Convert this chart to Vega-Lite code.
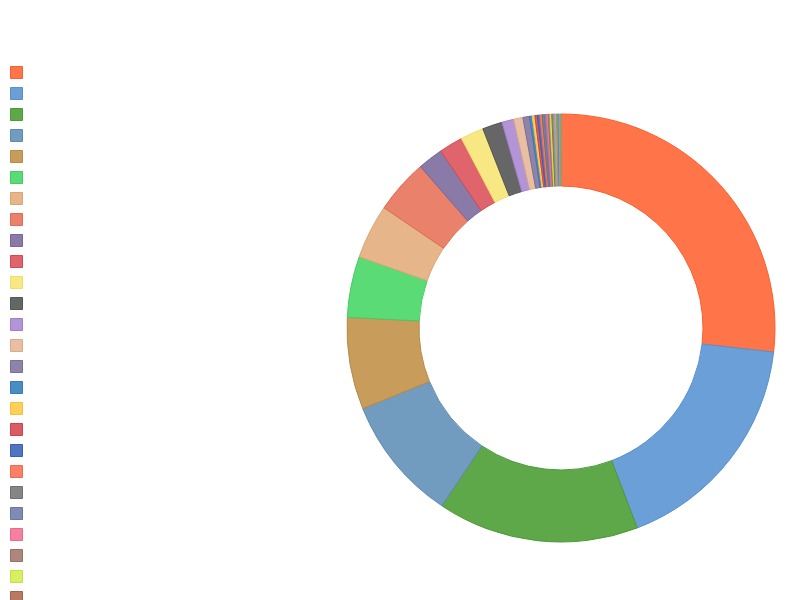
{
  "$schema": "https://vega.github.io/schema/vega-lite/v6.json",
  "width": 428,
  "height": 428,
  "autosize": {"type": "none"},
  "padding": {"left": 347, "top": 114, "right": 25, "bottom": 58},
  "background": "white",
  "view": {"stroke": null},
  "data": {
    "values": [
      {"category": "C01", "value": 26.8},
      {"category": "C02", "value": 17.4},
      {"category": "C03", "value": 15.2},
      {"category": "C04", "value": 9.45},
      {"category": "C05", "value": 6.95},
      {"category": "C06", "value": 4.6},
      {"category": "C07", "value": 4.1},
      {"category": "C08", "value": 4.1},
      {"category": "C09", "value": 1.9},
      {"category": "C10", "value": 1.8},
      {"category": "C11", "value": 1.75},
      {"category": "C12", "value": 1.5},
      {"category": "C13", "value": 0.9},
      {"category": "C14", "value": 0.7},
      {"category": "C15", "value": 0.5},
      {"category": "C16", "value": 0.2},
      {"category": "C17", "value": 0.2},
      {"category": "C18", "value": 0.19},
      {"category": "C19", "value": 0.18},
      {"category": "C20", "value": 0.17},
      {"category": "C21", "value": 0.16},
      {"category": "C22", "value": 0.15},
      {"category": "C23", "value": 0.14},
      {"category": "C24", "value": 0.14},
      {"category": "C25", "value": 0.13},
      {"category": "C26", "value": 0.12},
      {"category": "C27", "value": 0.12},
      {"category": "C28", "value": 0.11},
      {"category": "C29", "value": 0.11},
      {"category": "C30", "value": 0.1},
      {"category": "C31", "value": 0.07},
      {"category": "C32", "value": 0.06}
    ]
  },
  "mark": {"type": "arc", "innerRadius": 142, "outerRadius": 214, "strokeWidth": 1},
  "encoding": {
    "theta": {"field": "value", "type": "quantitative", "stack": true},
    "fill": {
      "field": "category",
      "type": "nominal",
      "scale": {"range": ["#ff7448", "#6a9fd8", "#5fa84a", "#719cc0", "#c89c5a", "#5adb76", "#e6b68a", "#ea816a", "#8a7aa8", "#e0646b", "#f7e884", "#666666", "#b394d6", "#e8bfa2", "#8e83a8", "#4a8cc4", "#ffd058", "#dc5a64", "#4f74c2", "#f98066", "#858585", "#7f8bb5", "#f6809f", "#ad867e", "#d6f062", "#b97962", "#7bc4a4", "#e8a0c8", "#9fb86a", "#6fa3a3", "#c9a3dc", "#8fbc8f"]},
      "legend": {
        "orient": "none",
        "legendX": -337,
        "legendY": -48,
        "title": null,
        "padding": 0,
        "symbolType": "square",
        "symbolSize": 144,
        "symbolStrokeWidth": 1,
        "rowPadding": 4,
        "labelExpr": "''",
        "labelFontSize": 10
      }
    },
    "stroke": {
      "field": "category",
      "type": "nominal",
      "scale": {"range": ["#f5622f", "#5a8fcc", "#4c9a38", "#5f8ab0", "#b88a48", "#44cc62", "#d9a576", "#e06a52", "#76669a", "#d04c55", "#efdc6a", "#555555", "#a07fc8", "#ddaa8a", "#7a6f98", "#3878b4", "#f5c040", "#c8444f", "#3c60b0", "#ee6a50", "#707070", "#6a76a4", "#ea6a8a", "#98706a", "#c4e048", "#a4644c", "#62b08e", "#d888b4", "#88a452", "#5a8e8e", "#b48cca", "#78a878"]},
      "legend": null
    }
  }
}
